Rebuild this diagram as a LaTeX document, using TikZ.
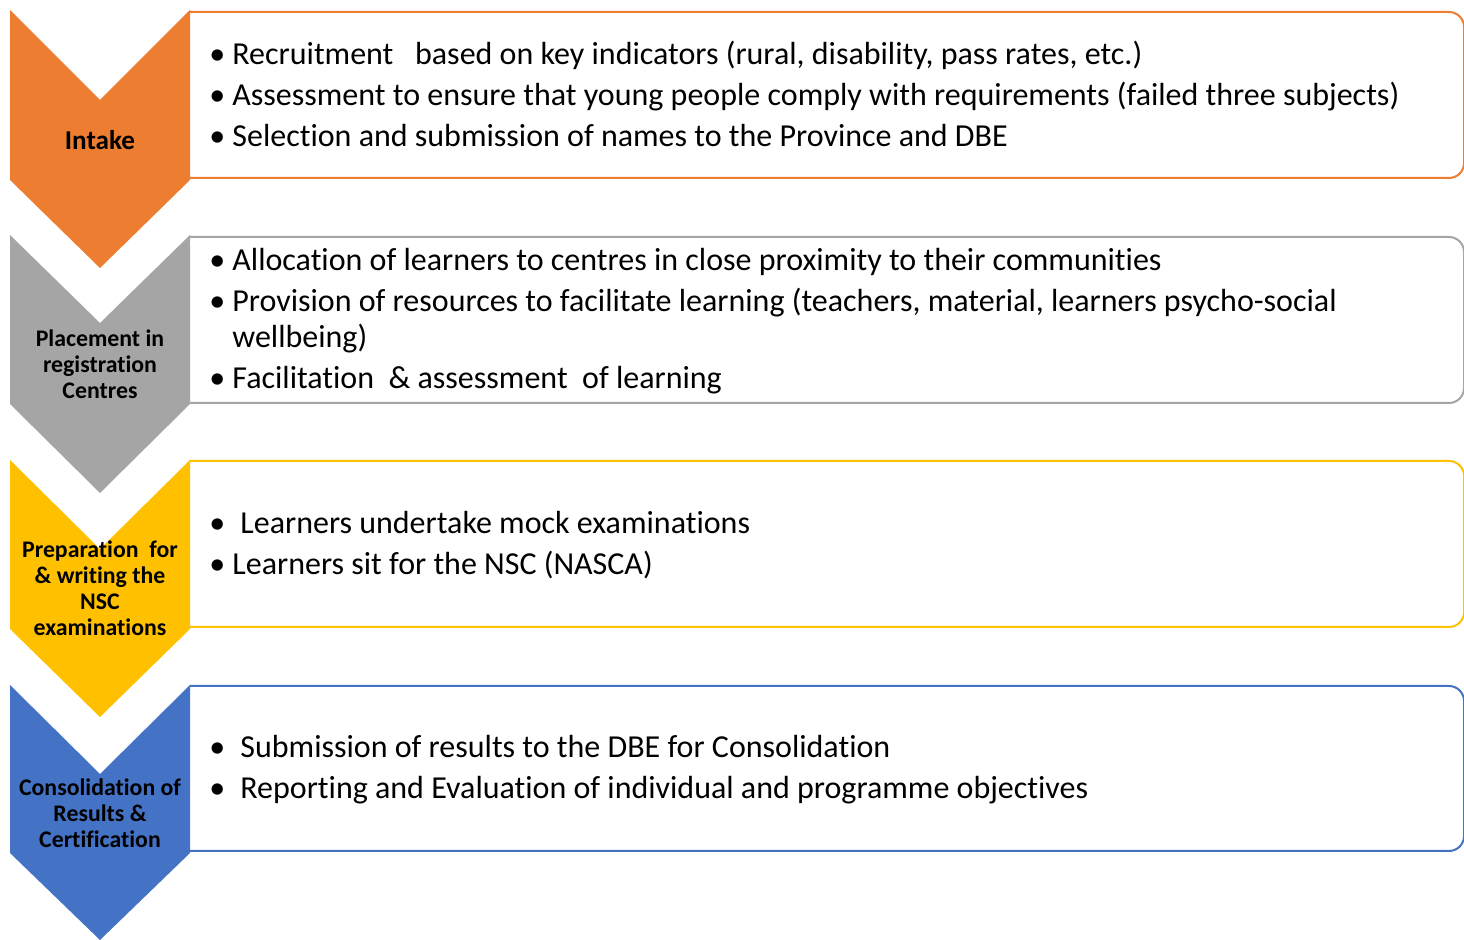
\documentclass[tikz,border=0pt]{standalone}
\usepackage{fontspec}
\setmainfont[Ligatures=NoCommon]{Carlito}
\usetikzlibrary{positioning}
\definecolor{stageorange}{HTML}{ED7D31}
\definecolor{stagegray}{HTML}{A5A5A5}
\definecolor{stagegold}{HTML}{FFC000}
\definecolor{stageblue}{HTML}{4472C4}

\begin{document}
\begin{tikzpicture}[
    x=0.5pt,y=-0.5pt,
    panel/.style={line width=1pt,rounded corners=7.5pt},
    stage/.style={font=\fontsize{11.9}{13}\selectfont\bfseries,align=center,inner sep=0pt},
    item/.style={anchor=base west,font=\fontsize{16}{18}\selectfont,inner sep=0pt},
    dot/.style={anchor=base west,font=\fontsize{16}{18}\selectfont,inner sep=0pt}
]
\useasboundingbox (0,0) rectangle (1464,940);

% panels
\draw[panel,stageorange] (190,12) -- (1464,12) -- (1464,178) -- (190,178);
\draw[panel,stagegray] (190,237) -- (1464,237) -- (1464,403) -- (190,403);
\draw[panel,stagegold] (190,461) -- (1464,461) -- (1464,627) -- (190,627);
\draw[panel,stageblue] (190,686) -- (1464,686) -- (1464,851) -- (190,851);

% chevrons
\fill[stageorange] (10,10) -- (100,100) -- (190,10) -- (190,180) -- (100,268) -- (10,180) -- cycle;
\fill[stagegray] (10,235) -- (100,323) -- (190,235) -- (190,404) -- (100,493) -- (10,404) -- cycle;
\fill[stagegold] (10,460) -- (100,549) -- (190,460) -- (190,629) -- (100,717) -- (10,629) -- cycle;
\fill[stageblue] (10,685) -- (100,774) -- (190,685) -- (190,853) -- (100,940) -- (10,853) -- cycle;

\node[stage,font=\fontsize{13.6}{15}\selectfont\bfseries] (intake) at (100,140) {Intake};
\node[stage] (placement) at (100,364) {Placement in\\registration\\Centres};
\node[stage] (prep) at (100,588) {Preparation\ \ for\\\& writing the\\NSC\\examinations};
\node[stage] (consol) at (100,813) {Consolidation of\\Results \&\\Certification};

% intake
\node[dot] (d11) at (209,65) {\textbullet};
\node[item] (t11) at (232,65) {Recruitment\ \ \ based on key indicators (rural, disability, pass rates, etc.)};
\node[dot] (d12) at (209,106) {\textbullet};
\node[item] (t12) at (232,106) {Assessment to ensure that young people comply with requirements (failed three subjects)};
\node[dot] (d13) at (209,147) {\textbullet};
\node[item] (t13) at (232,147) {Selection and submission of names to the Province and DBE};

% placement
\node[dot] (d21) at (209,271) {\textbullet};
\node[item] (t21) at (232,271) {Allocation of learners to centres in close proximity to their communities};
\node[dot] (d22) at (209,312) {\textbullet};
\node[item] (t22) at (232,312) {Provision of resources to facilitate learning (teachers, material, learners psycho-social};
\node[item] (t22b) at (232,348) {wellbeing)};
\node[dot] (d23) at (209,389) {\textbullet};
\node[item] (t23) at (232,389) {Facilitation\ \ \& assessment\ \ of learning};

% preparation
\node[dot] (d31) at (209,534) {\textbullet};
\node[item] (t31) at (240,534) {Learners undertake mock examinations};
\node[dot] (d32) at (209,575) {\textbullet};
\node[item] (t32) at (232,575) {Learners sit for the NSC (NASCA)};

% consolidation
\node[dot] (d41) at (209,758) {\textbullet};
\node[item] (t41) at (240,758) {Submission of results to the DBE for Consolidation};
\node[dot] (d42) at (209,799) {\textbullet};
\node[item] (t42) at (240,799) {Reporting and Evaluation of individual and programme objectives};
\end{tikzpicture}
\end{document}
